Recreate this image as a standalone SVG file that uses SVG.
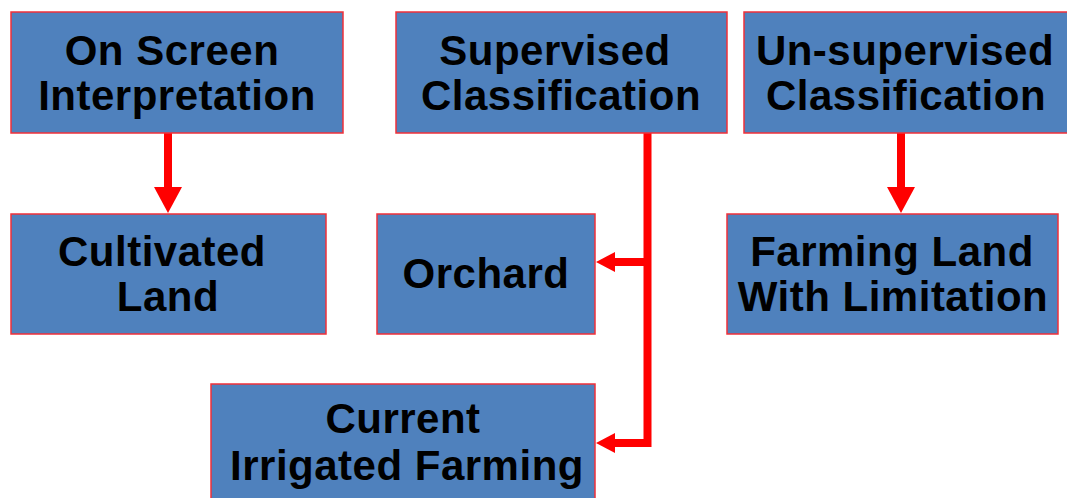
<svg xmlns="http://www.w3.org/2000/svg" width="1067" height="498" viewBox="0 0 1067 498">
<defs>
<style>
.box{fill:#4F81BD;stroke:#F0303A;stroke-width:1.5}
.t{font-family:"Liberation Sans",Arial,sans-serif;font-weight:bold;font-size:42px;fill:#000;text-anchor:middle;letter-spacing:0.5px}
.c{stroke:#FF0000;stroke-width:8;fill:none}
.h{fill:#FF0000}
</style>
</defs>
<rect width="1067" height="498" fill="#fff"/>
<g id="connectors">
<line class="c" x1="168" y1="133" x2="168" y2="190"/>
<polygon class="h" points="154,187 182,187 168,213"/>
<line class="c" x1="901" y1="133" x2="901" y2="190"/>
<polygon class="h" points="887,187 915,187 901,213"/>
<polyline class="c" points="647.5,133 647.5,443 612,443"/>
<line class="c" x1="647.5" y1="262" x2="612" y2="262"/>
<polygon class="h" points="615,252 615,272 596,262"/>
<polygon class="h" points="615,433 615,453 596,443"/>
</g>
<g id="onscreen"><rect class="box" x="11" y="12" width="332" height="121"/><text class="t" x="172" y="65">On Screen</text><text class="t" x="177" y="110">Interpretation</text></g>
<g id="supervised"><rect class="box" x="396" y="12" width="331" height="121"/><text class="t" x="555" y="65">Supervised</text><text class="t" x="561" y="110">Classification</text></g>
<g id="unsupervised"><rect class="box" x="744" y="12" width="330" height="121"/><text class="t" x="905" y="65">Un-supervised</text><text class="t" x="906" y="110">Classification</text></g>
<g id="cultivated"><rect class="box" x="11" y="214" width="315" height="120"/><text class="t" x="162" y="266">Cultivated</text><text class="t" x="168" y="311">Land</text></g>
<g id="orchard"><rect class="box" x="377" y="214" width="218" height="120"/><text class="t" x="486" y="288">Orchard</text></g>
<g id="farming"><rect class="box" x="727" y="214" width="331" height="120"/><text class="t" x="892" y="266">Farming Land</text><text class="t" x="893" y="311">With Limitation</text></g>
<g id="current"><rect class="box" x="211" y="384" width="384" height="120"/><text class="t" x="403" y="433">Current</text><text class="t" x="407" y="480">Irrigated Farming</text></g>
</svg>
